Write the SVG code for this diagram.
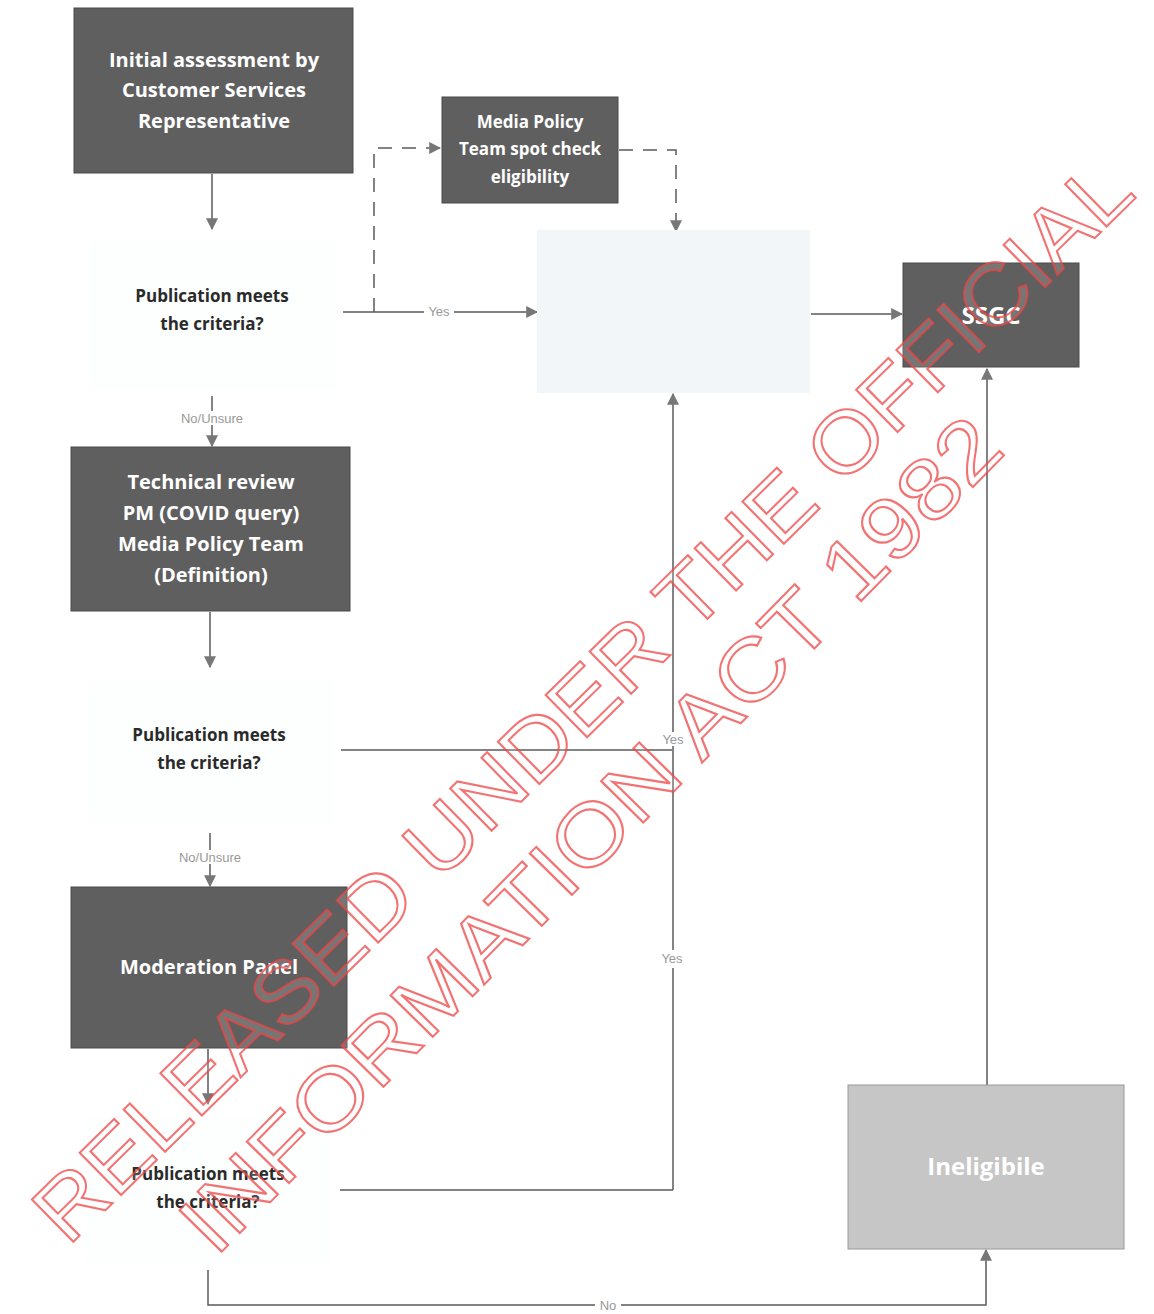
<svg xmlns="http://www.w3.org/2000/svg" width="1154" height="1314" viewBox="0 0 1154 1314">
<style>
.box{fill:#5f5f5f;stroke:#4a4a4a;stroke-width:1}
.lbox{fill:#c6c6c6;stroke:#9a9a9a;stroke-width:1}
.fbox{fill:#f3f6f9;stroke:none}
.dbox{fill:#fdfefe;stroke:none}
.wt{font-family:"Open Sans","Noto Sans",sans-serif;font-weight:700;fill:#ffffff;text-anchor:middle}
.dt{font-family:"Open Sans","Noto Sans",sans-serif;font-weight:700;fill:#2a2a2a;text-anchor:middle;font-size:17px}
.ln{fill:none;stroke:#5a5a5a;stroke-width:1.5}
.dash{fill:none;stroke:#5a5a5a;stroke-width:1.5;stroke-dasharray:14 10}
.lab{font-family:"Liberation Sans",Arial,sans-serif;font-size:13px;fill:#999999;text-anchor:middle}
.wm{font-family:"Liberation Sans",Arial,sans-serif;font-size:86px;fill:#ffffff;fill-opacity:0.15;stroke:#ee4444;stroke-opacity:0.75;stroke-width:2;text-anchor:middle;dominant-baseline:central}
</style>
<defs>
<marker id="ah" viewBox="0 0 10 10" refX="9" refY="5" markerWidth="12" markerHeight="12" markerUnits="userSpaceOnUse" orient="auto">
<path d="M0,0 L10,5 L0,10 z" fill="#777777"/>
</marker>
</defs>
<rect width="1154" height="1314" fill="#ffffff"/>

<g id="connectors">
<path class="ln" d="M212,174 V229" marker-end="url(#ah)"/>
<path class="ln" d="M343,312 H537" marker-end="url(#ah)"/>
<rect x="424" y="305" width="30" height="14" fill="#ffffff"/>
<text class="lab" x="439" y="316">Yes</text>
<path class="dash" d="M374,312 V148 H440" marker-end="url(#ah)"/>
<path class="dash" d="M619,150 H676 V231" marker-end="url(#ah)"/>
<path class="ln" d="M811,314 H902" marker-end="url(#ah)"/>
<path class="ln" d="M212,396 V446" marker-end="url(#ah)"/>
<rect x="165" y="411" width="94" height="14" fill="#ffffff"/>
<text class="lab" x="212" y="423">No/Unsure</text>
<path class="ln" d="M210,612 V667" marker-end="url(#ah)"/>
<path class="ln" d="M341,750 H672"/>
<path class="ln" d="M673,1190 V394" marker-end="url(#ah)"/>
<rect x="658" y="732" width="30" height="14" fill="#ffffff"/>
<text class="lab" x="673" y="744">Yes</text>
<rect x="655" y="950" width="36" height="18" fill="#ffffff"/>
<text class="lab" x="672" y="963">Yes</text>
<path class="ln" d="M210,833 V886" marker-end="url(#ah)"/>
<rect x="163" y="850" width="94" height="14" fill="#ffffff"/>
<text class="lab" x="210" y="862">No/Unsure</text>
<path class="ln" d="M208,1049 V1104" marker-end="url(#ah)"/>
<path class="ln" d="M340,1190 H673"/>
<path class="ln" d="M987,1085 V369" marker-end="url(#ah)"/>
<path class="ln" d="M208,1270 V1305 H986 V1250" marker-end="url(#ah)"/>
<rect x="595" y="1298" width="26" height="14" fill="#ffffff"/>
<text class="lab" x="608" y="1310">No</text>
</g>

<g id="n-initial">
<rect class="box" x="74" y="8" width="279" height="165"/>
<text class="wt" font-size="20" x="214" y="67">Initial assessment by</text>
<text class="wt" font-size="20" x="214" y="97">Customer Services</text>
<text class="wt" font-size="20" x="214" y="128">Representative</text>
</g>

<g id="n-decision1">
<rect class="dbox" x="90" y="240" width="245" height="150"/>
<text class="dt" x="212" y="302">Publication meets</text>
<text class="dt" x="212" y="330">the criteria?</text>
</g>

<g id="n-mediapolicy">
<rect class="box" x="442" y="97" width="176" height="106"/>
<text class="wt" font-size="17" x="530" y="128">Media Policy</text>
<text class="wt" font-size="17" x="530" y="155">Team spot check</text>
<text class="wt" font-size="17" x="530" y="183">eligibility</text>
</g>

<g id="n-faded">
<rect class="fbox" x="537" y="230" width="273" height="163"/>
</g>

<g id="n-ssgc">
<rect class="box" x="903" y="263" width="176" height="104"/>
<text class="wt" font-size="24" x="991" y="324">SSGC</text>
</g>

<g id="n-technical">
<rect class="box" x="71" y="447" width="279" height="164"/>
<text class="wt" font-size="20" x="211" y="489">Technical review</text>
<text class="wt" font-size="20" x="211" y="520">PM (COVID query)</text>
<text class="wt" font-size="20" x="211" y="551">Media Policy Team</text>
<text class="wt" font-size="20" x="211" y="582">(Definition)</text>
</g>

<g id="n-decision2">
<rect class="dbox" x="88" y="680" width="245" height="145"/>
<text class="dt" x="209" y="741">Publication meets</text>
<text class="dt" x="209" y="769">the criteria?</text>
</g>

<g id="n-moderation">
<rect class="box" x="71" y="887" width="276" height="161"/>
<text class="wt" font-size="20" x="209" y="974">Moderation Panel</text>
</g>

<g id="n-decision3">
<rect class="dbox" x="86" y="1118" width="245" height="145"/>
<text class="dt" x="208" y="1180">Publication meets</text>
<text class="dt" x="208" y="1208">the criteria?</text>
</g>

<g id="n-ineligible">
<rect class="lbox" x="848" y="1085" width="276" height="164"/>
<text class="wt" font-size="24" x="986" y="1175">Ineligibile</text>
</g>

<g id="watermark">
<text class="wm" transform="translate(582,700) rotate(-44.5)" textLength="1500" lengthAdjust="spacingAndGlyphs">RELEASED UNDER THE OFFICIAL</text>
<text class="wm" transform="translate(590,834) rotate(-45.5)" textLength="1130" lengthAdjust="spacingAndGlyphs">INFORMATION ACT 1982</text>
</g>
</svg>
